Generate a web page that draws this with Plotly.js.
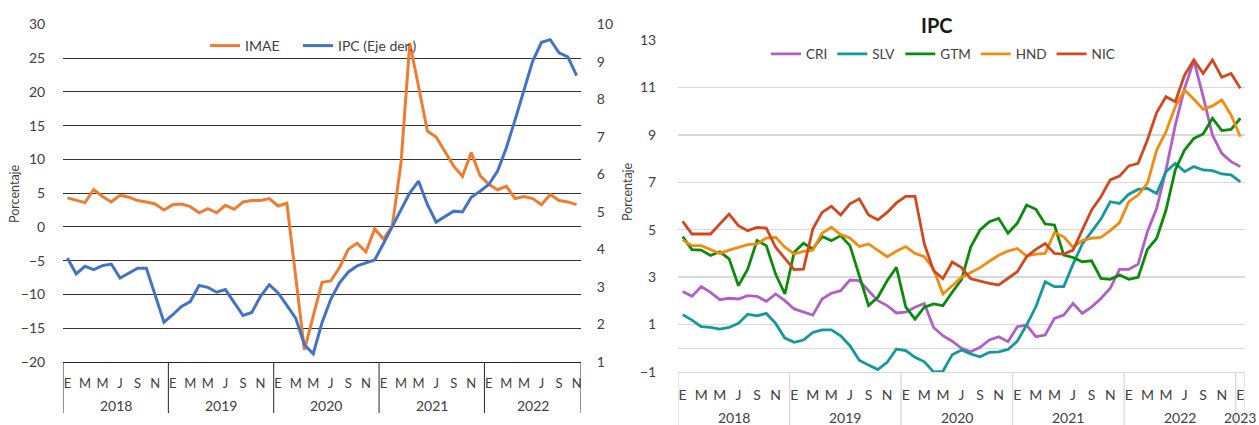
<!DOCTYPE html>
<html><head><meta charset="utf-8">
<script src="https://cdn.plot.ly/plotly-3.0.1.min.js"></script>
<style>html,body{margin:0;padding:0;background:#fff}#chart{width:1259px;height:425px}</style>
</head><body><div id="chart"></div>
<script>
// Month initials (Spanish) and years
const monthLetters = ['E','F','M','A','M','J','J','A','S','O','N','D'];
const startYear = 2018;

// Left panel: Nicaragua, Jan 2018 - Nov 2022
const imae = [4.3, 4.0, 3.6, 5.5, 4.5, 3.7, 4.7, 4.4, 3.9, 3.7, 3.4, 2.5,
  3.3, 3.4, 3.0, 2.1, 2.7, 2.1, 3.2, 2.6, 3.7, 3.9, 3.9, 4.2,
  3.1, 3.5, -7.3, -18.2, -13.2, -8.2, -8.0, -6.0, -3.3, -2.4, -3.7, -0.3,
  -1.8, 0.1, 9.5, 27.2, 20.8, 14.2, 13.3, 11.2, 9.0, 7.5, 11.0, 7.6,
  6.3, 5.5, 6.0, 4.2, 4.5, 4.2, 3.3, 4.8, 3.9, 3.7, 3.3];
const ipcNicLeft = [3.77, 3.35, 3.55, 3.46, 3.57, 3.61, 3.24, 3.37, 3.50, 3.50, 2.79, 2.06,
  2.26, 2.48, 2.61, 3.04, 2.99, 2.86, 2.93, 2.57, 2.24, 2.32, 2.75, 3.06,
  2.84, 2.51, 2.17, 1.46, 1.22, 2.05, 2.67, 3.11, 3.40, 3.56, 3.65, 3.72,
  4.16, 4.62, 5.07, 5.51, 5.82, 5.20, 4.73, 4.87, 5.02, 5.00, 5.39, 5.55,
  5.73, 6.09, 6.71, 7.46, 8.22, 9.02, 9.52, 9.59, 9.24, 9.13, 8.63];

// Right panel: IPC by country, Jan 2018 - Jan 2023
const cri = [2.39, 2.19, 2.60, 2.36, 2.05, 2.11, 2.08, 2.22, 2.19, 1.98, 2.29, 2.01,
  1.66, 1.52, 1.40, 2.08, 2.32, 2.43, 2.88, 2.85, 2.43, 2.01, 1.80, 1.49,
  1.52, 1.73, 1.89, 0.88, 0.53, 0.30, 0.00, -0.15, 0.04, 0.35, 0.49, 0.28,
  0.91, 0.98, 0.49, 0.56, 1.26, 1.40, 1.89, 1.47, 1.75, 2.10, 2.53, 3.33,
  3.33, 3.55, 4.92, 5.90, 7.52, 9.41, 10.96, 12.13, 10.61, 8.99, 8.22, 7.87,
  7.66];
const slv = [1.42, 1.19, 0.91, 0.88, 0.81, 0.88, 1.05, 1.44, 1.37, 1.47, 1.05, 0.43,
  0.25, 0.35, 0.67, 0.78, 0.78, 0.53, 0.11, -0.50, -0.71, -0.90, -0.59, -0.03,
  -0.10, -0.38, -0.57, -1.00, -0.97, -0.27, -0.07, -0.24, -0.36, -0.17, -0.15, -0.05,
  0.30, 0.98, 1.75, 2.81, 2.60, 2.60, 3.55, 4.40, 4.92, 5.45, 6.18, 6.11,
  6.50, 6.70, 6.74, 6.53, 7.45, 7.80, 7.45, 7.66, 7.52, 7.49, 7.35, 7.31,
  7.02];
const gtm = [4.71, 4.16, 4.14, 3.91, 4.07, 3.77, 2.64, 3.34, 4.54, 4.33, 3.13, 2.29,
  4.05, 4.43, 4.19, 4.71, 4.54, 4.75, 4.33, 3.06, 1.80, 2.15, 2.85, 3.41,
  1.75, 1.23, 1.73, 1.87, 1.80, 2.36, 2.90, 4.28, 4.99, 5.34, 5.48, 4.85,
  5.27, 6.04, 5.86, 5.24, 5.20, 3.93, 3.83, 3.65, 3.69, 2.95, 2.91, 3.09,
  2.91, 2.99, 4.17, 4.64, 5.83, 7.52, 8.36, 8.85, 9.04, 9.70, 9.18, 9.23,
  9.70];
const hnd = [4.57, 4.33, 4.33, 4.16, 4.00, 4.14, 4.26, 4.37, 4.40, 4.65, 4.68, 4.26,
  3.98, 4.09, 4.14, 4.85, 5.10, 4.79, 4.65, 4.29, 4.40, 4.12, 3.86, 4.09,
  4.29, 4.00, 3.86, 3.34, 2.29, 2.64, 3.00, 3.20, 3.40, 3.67, 3.92, 4.10,
  4.21, 3.89, 3.97, 4.00, 4.88, 4.70, 4.26, 4.54, 4.64, 4.68, 4.96, 5.30,
  6.18, 6.46, 6.95, 8.36, 9.13, 10.19, 10.89, 10.50, 10.08, 10.22, 10.47, 9.84,
  8.92];
const nic = [5.35, 4.82, 4.82, 4.82, 5.24, 5.66, 5.17, 4.96, 5.10, 5.07, 4.26, 3.77,
  3.32, 3.34, 5.03, 5.73, 5.99, 5.62, 6.09, 6.30, 5.62, 5.42, 5.73, 6.13,
  6.41, 6.41, 4.40, 3.27, 2.94, 3.64, 3.40, 2.93, 2.83, 2.74, 2.67, 2.95,
  3.23, 3.86, 4.17, 4.42, 4.00, 3.97, 4.14, 4.99, 5.83, 6.39, 7.10, 7.26,
  7.69, 7.80, 8.78, 9.94, 10.61, 10.40, 11.52, 12.16, 11.59, 12.16, 11.43, 11.59,
  10.96];

const W = 1259, H = 425;
const FONT = 'Lato, "Open Sans", sans-serif';
const TXT = '#404040';
const px = v => v / W, py = v => 1 - v / H;

function monthTicks(n) {
  const vals = [], text = [];
  for (let i = 0; i < n; i += 2) { vals.push(i); text.push(monthLetters[i % 12]); }
  return {vals, text};
}
function yearGroups(n) {
  const g = [];
  for (let s = 0; s < n; s += 12) {
    const cnt = Math.min(12, n - s);
    g.push({year: String(startYear + s / 12), start: s, end: s + cnt - 1});
  }
  return g;
}

const nL = imae.length, nR = cri.length;
const xL = imae.map((_, i) => i), xR = cri.map((_, i) => i);
const tL = monthTicks(nL), tR = monthTicks(nR);
const gL = yearGroups(nL), gR = yearGroups(nR);

const traces = [
  {x: xL, y: imae, name: 'IMAE', type: 'scatter', mode: 'lines', xaxis: 'x', yaxis: 'y',
   line: {color: '#ed7d31', width: 3}, legend: 'legend'},
  {x: xL, y: ipcNicLeft, name: 'IPC (Eje der.)', type: 'scatter', mode: 'lines', xaxis: 'x', yaxis: 'y2',
   line: {color: '#4472c4', width: 3}, legend: 'legend3'},
  {x: xR, y: cri, name: 'CRI', type: 'scatter', mode: 'lines', xaxis: 'x2', yaxis: 'y3',
   line: {color: '#b05fc6', width: 2.8}, legend: 'legend2'},
  {x: xR, y: slv, name: 'SLV', type: 'scatter', mode: 'lines', xaxis: 'x2', yaxis: 'y3',
   line: {color: '#14999a', width: 2.8}, legend: 'legend2'},
  {x: xR, y: gtm, name: 'GTM', type: 'scatter', mode: 'lines', xaxis: 'x2', yaxis: 'y3',
   line: {color: '#0b8a0b', width: 2.8}, legend: 'legend2'},
  {x: xR, y: hnd, name: 'HND', type: 'scatter', mode: 'lines', xaxis: 'x2', yaxis: 'y3',
   line: {color: '#f28b10', width: 2.8}, legend: 'legend2'},
  {x: xR, y: nic, name: 'NIC', type: 'scatter', mode: 'lines', xaxis: 'x2', yaxis: 'y3',
   line: {color: '#d2481e', width: 2.8}, legend: 'legend2'}
];

const shapes = [], annotations = [];
const lBot = py(362), lDiv = py(413), rBot = py(372), rDiv = 0;
gL.forEach(g => shapes.push({type: 'line', xref: 'x', yref: 'paper', x0: g.start - 0.5, x1: g.start - 0.5, y0: lBot, y1: lDiv, line: {color: '#262626', width: 1}}));
shapes.push({type: 'line', xref: 'x', yref: 'paper', x0: nL - 0.5, x1: nL - 0.5, y0: lBot, y1: lDiv, line: {color: '#262626', width: 1}});
gR.forEach(g => shapes.push({type: 'line', xref: 'x2', yref: 'paper', x0: g.start - 0.5, x1: g.start - 0.5, y0: rBot, y1: rDiv, line: {color: '#d9d9d9', width: 1.3}}));
shapes.push({type: 'line', xref: 'x2', yref: 'paper', x0: nR - 0.5, x1: nR - 0.5, y0: rBot, y1: rDiv, line: {color: '#d9d9d9', width: 1.3}});

gL.forEach(g => annotations.push({xref: 'x', yref: 'paper', x: (g.start + g.end) / 2, y: py(405), text: g.year,
  showarrow: false, yanchor: 'middle', font: {family: FONT, size: 14, color: TXT}}));
gR.forEach(g => annotations.push({xref: 'x2', yref: 'paper', x: (g.start + g.end) / 2, y: py(417), text: g.year,
  showarrow: false, yanchor: 'middle', font: {family: FONT, size: 14, color: TXT}}));
annotations.push({xref: 'paper', yref: 'paper', x: px(14), y: py(194), text: 'Porcentaje', textangle: -90,
  showarrow: false, xanchor: 'center', yanchor: 'middle', font: {family: FONT, size: 12.5, color: TXT}});
annotations.push({xref: 'paper', yref: 'paper', x: px(627), y: py(192), text: 'Porcentaje', textangle: -90,
  showarrow: false, xanchor: 'center', yanchor: 'middle', font: {family: FONT, size: 12.5, color: TXT}});
annotations.push({xref: 'paper', yref: 'paper', x: px(937), y: py(25), text: '<b>IPC</b>',
  showarrow: false, xanchor: 'center', yanchor: 'middle', font: {family: FONT, size: 20, color: '#1a1a1a'}});

const tickF = {family: FONT, size: 14, color: TXT};
const legF = {family: FONT, size: 14, color: TXT};
const layout = {
  width: W, height: H, margin: {l: 0, r: 0, t: 0, b: 0},
  paper_bgcolor: '#fff', plot_bgcolor: 'rgba(0,0,0,0)', showlegend: true,
  font: {family: FONT, color: TXT},
  xaxis: {domain: [px(63), px(581)], anchor: 'y', range: [-0.5, nL - 0.5], tickmode: 'array',
    tickvals: tL.vals, ticktext: tL.text, showgrid: false, zeroline: false, showline: true,
    linecolor: '#262626', linewidth: 1, ticks: 'outside', ticklen: 9, tickcolor: 'rgba(0,0,0,0)',
    tickfont: {family: FONT, size: 13, color: TXT}, tickangle: 0, fixedrange: true},
  yaxis: {domain: [py(362), py(24.3)], anchor: 'x', range: [-20, 30], dtick: 5, tick0: 0,
    showgrid: true, gridcolor: '#333333', gridwidth: 1, zeroline: false, showline: false,
    ticks: 'outside', ticklen: 14, tickcolor: 'rgba(0,0,0,0)', tickfont: tickF},
  yaxis2: {overlaying: 'y', anchor: 'x', side: 'right', range: [1, 10], dtick: 1, tick0: 1,
    showgrid: false, zeroline: false, showline: false,
    ticks: 'outside', ticklen: 12, tickcolor: 'rgba(0,0,0,0)', tickfont: tickF},
  xaxis2: {domain: [px(678), px(1245)], anchor: 'y3', range: [-0.5, nR - 0.5], tickmode: 'array',
    tickvals: tR.vals, ticktext: tR.text, showgrid: false, zeroline: false, showline: true,
    linecolor: '#d9d9d9', linewidth: 1.3, ticks: 'outside', ticklen: 10, tickcolor: 'rgba(0,0,0,0)',
    tickfont: {family: FONT, size: 14, color: TXT}, tickangle: 0},
  yaxis3: {domain: [py(372), py(40)], anchor: 'x2', range: [-1, 13], tickmode: 'array',
    tickvals: [-1, 1, 3, 5, 7, 9, 11, 13], showgrid: true, gridcolor: '#d9d9d9', gridwidth: 1.3,
    zeroline: true, zerolinecolor: '#d9d9d9', zerolinewidth: 1.3, showline: false,
    ticks: 'outside', ticklen: 18, tickcolor: 'rgba(0,0,0,0)', tickfont: tickF},
  legend: {orientation: 'h', x: px(205), y: py(46), xanchor: 'left', yanchor: 'middle',
    bgcolor: 'rgba(0,0,0,0)', font: legF, itemwidth: 30},
  legend3: {orientation: 'h', x: px(298), y: py(46), xanchor: 'left', yanchor: 'middle',
    bgcolor: 'rgba(0,0,0,0)', font: legF, itemwidth: 30},
  legend2: {orientation: 'h', x: px(766), y: py(54), xanchor: 'left', yanchor: 'middle',
    bgcolor: 'rgba(0,0,0,0)', font: {family: FONT, size: 13.5, color: TXT}, itemwidth: 30},
  shapes, annotations
};
Plotly.newPlot('chart', traces, layout, {displayModeBar: false, staticPlot: true});
</script></body></html>
